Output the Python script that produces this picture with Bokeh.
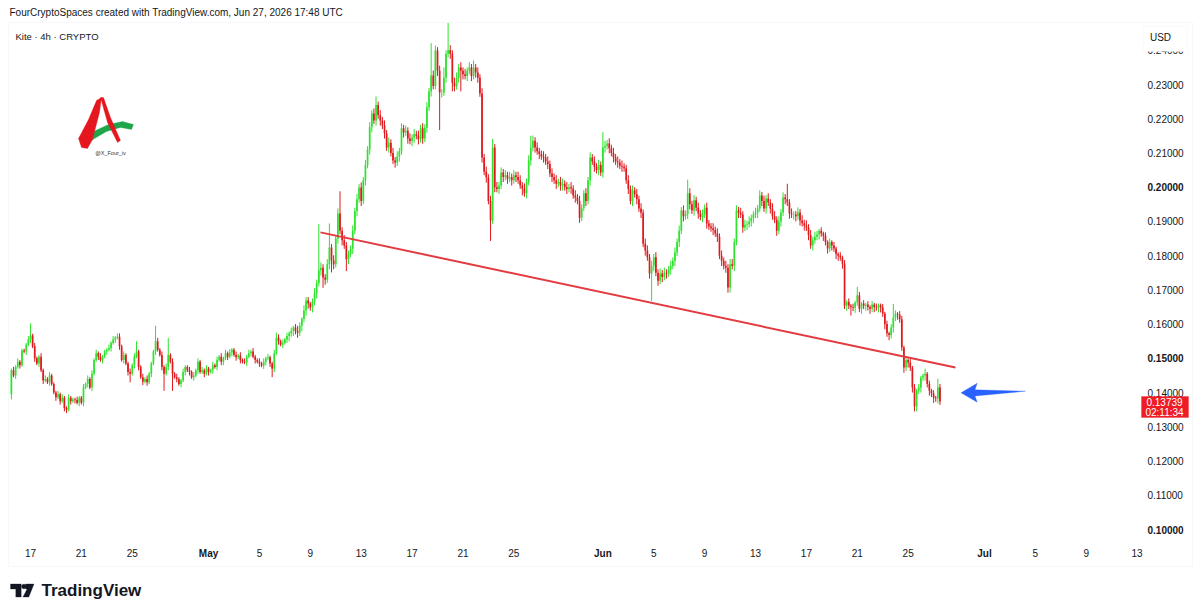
from datetime import datetime, timezone
import numpy as np
from bokeh.plotting import figure
from bokeh.models import (ColumnDataSource, FixedTicker, Label, PolyAnnotation,
                          Range1d, PrintfTickFormatter)
from bokeh.embed import file_html
from bokeh.resources import INLINE

# ---------------- data ----------------
START_UTC = "2026-04-15T12:00:00"      # first 4h candle
CANDLE_HOURS = 4
FIRST_OPEN = 0.1395
# closes in thousandths of USD, one per 4h candle
CLOSES_K = [
    146.5, 145.0, 147.5, 149.0, 148.0, 152.3, 152.0, 154.0, 155.5, 156.7,
    153.5, 150.0, 148.5, 150.5, 146.5, 143.5, 144.0, 143.0, 145.0, 142.5,
    140.0, 138.6, 139.5, 137.5, 138.5, 135.5, 135.0, 138.5, 137.5, 138.0,
    137.8, 137.0, 138.5, 137.0, 141.5, 142.5, 144.0, 141.5, 145.5, 149.5,
    151.5, 150.5, 149.5, 150.5, 152.0, 152.5, 153.0, 154.5, 155.5, 156.0,
    156.3, 153.5, 149.5, 151.0, 148.5, 146.0, 145.5, 148.0, 150.5, 152.0,
    147.5, 144.5, 143.2, 144.0, 143.0, 145.5, 148.5, 152.0, 155.0, 152.5,
    151.0, 147.5, 145.5, 147.5, 151.0, 149.0, 145.5, 144.5, 144.0, 142.5,
    143.5, 146.0, 147.5, 146.5, 146.0, 144.5, 145.0, 146.5, 149.0, 146.0,
    146.5, 145.5, 147.0, 146.0, 146.5, 148.0, 147.5, 149.5, 150.5, 149.0,
    150.0, 151.5, 150.5, 151.7, 152.5, 151.0, 150.3, 150.8, 149.5, 149.0,
    148.8, 150.5, 151.5, 152.0, 150.5, 149.5, 149.0, 148.5, 147.9, 149.0,
    150.0, 150.3, 148.5, 147.0, 151.5, 156.0, 155.0, 154.0, 154.5, 155.5,
    156.5, 157.3, 158.0, 159.0, 158.0, 157.5, 159.5, 161.5, 164.0, 166.9,
    166.0, 164.9, 166.5, 169.0, 172.0, 175.7, 176.5, 173.6, 173.0, 177.5,
    182.4, 178.6, 177.5, 185.0, 192.3, 187.3, 184.5, 183.0, 179.0, 180.5,
    182.0, 187.3, 193.0, 196.5, 199.9, 196.0, 202.0, 206.5, 211.0, 217.5,
    221.5, 219.5, 224.0, 221.0, 219.5, 218.0, 215.7, 211.6, 213.0, 210.0,
    207.8, 207.2, 209.0, 210.5, 217.2, 216.0, 216.5, 214.2, 213.5, 214.5,
    215.5, 215.0, 214.0, 217.2, 214.2, 217.4, 223.3, 228.0, 232.6, 229.6,
    239.9, 234.0, 227.7, 227.7, 232.0, 239.0, 240.0, 239.0, 230.5, 229.5,
    232.0, 235.0, 234.0, 233.0, 232.5, 234.0, 235.0, 232.5, 235.0, 233.5,
    232.0, 227.4, 208.7, 204.5, 202.8, 196.0, 190.3, 211.6, 200.0, 199.5,
    200.5, 204.3, 203.0, 203.5, 202.5, 203.0, 202.0, 203.5, 203.0, 202.0,
    200.5, 199.6, 198.2, 201.5, 207.8, 211.5, 213.6, 211.6, 210.5, 209.7,
    209.0, 208.7, 207.5, 206.8, 204.0, 203.0, 202.0, 201.0, 201.5, 200.5,
    201.0, 200.0, 199.5, 200.0, 199.6, 197.6, 197.0, 196.0, 191.1, 194.0,
    198.2, 196.0, 202.0, 208.7, 207.5, 206.0, 205.0, 206.5, 204.3, 211.6,
    212.0, 212.8, 211.4, 210.0, 208.7, 207.5, 207.2, 206.3, 206.0, 205.5,
    202.0, 199.5, 196.0, 199.0, 198.0, 196.5, 193.8, 192.5, 183.5, 181.5,
    179.5, 174.8, 177.0, 179.5, 175.0, 172.7, 174.8, 173.8, 175.0, 174.8,
    176.0, 177.0, 178.5, 180.9, 184.0, 187.3, 193.2, 191.5, 192.2, 198.2,
    195.0, 193.2, 196.2, 194.0, 192.3, 191.3, 192.0, 194.0, 189.4, 188.5,
    188.0, 187.5, 186.5, 185.5, 180.0, 178.5, 177.0, 176.5, 170.7, 177.5,
    177.0, 184.0, 193.2, 192.5, 192.0, 188.2, 189.0, 189.2, 190.0, 191.0,
    192.0, 192.5, 193.8, 197.6, 196.0, 193.8, 196.7, 195.5, 193.8, 191.5,
    190.5, 187.3, 190.0, 192.6, 197.0, 196.5, 195.5, 192.3, 192.0, 192.0,
    191.5, 192.6, 190.3, 189.5, 188.8, 188.2, 186.0, 183.0, 184.5, 185.5,
    186.2, 187.3, 186.5, 185.8, 184.0, 182.1, 184.0, 183.0, 182.1, 180.5,
    180.0, 179.5, 177.7, 165.4, 166.5, 165.4, 165.0, 164.8, 166.3, 168.4,
    164.5, 166.0, 165.4, 165.7, 165.0, 164.5, 165.7, 165.0, 164.9, 165.5,
    164.9, 163.1, 160.0, 157.3, 156.8, 159.0, 161.9, 163.0, 162.8, 161.4,
    153.2, 147.3, 149.5, 148.8, 147.3, 141.5, 136.0, 140.6, 141.5, 144.4,
    145.0, 145.5, 142.5, 140.6, 139.7, 138.5, 138.3, 141.5, 137.4,
]
# wick lengths beyond the body, base-36 digits in units of WICK_UNIT
WICK_UNIT = 0.0005
UPPER_WICK = (
    "1212111127 1211212121 1121211211 1211212121 2121112121 2212112126 "
    "1121211192 1212a12121 1211212121 2121121212 1212112121 2121211212 "
    "1211232121 2121232132 21232r3223 e2323d2322 2323232323 2352323232 "
    "3232323232 32323232j3 323262g323 3232323242 3232323523 2323232323 "
    "3232373232 2323232323 3232323232 2323232329 3232323232 2323232323 "
    "3232323232 2323232328 3232323232 2323232323 3232323232 2323232323 "
    "3232329232 2323232323 2121212121 1212121215 2121212121 1212128212 "
    "2121212121 131212152"
)
LOWER_WICK = (
    "3121211212 1212121121 1212122121 2121212121 1212121212 1212125121 "
    "2121212121 12a121a121 2121212121 1212121212 2121212121 1212121212 "
    "2125212121 2323232323 3232323632 3732323273 2323232323 3232323232 "
    "2323232323 3232323232 23m3232353 23c3232323 323232c232 3232323232 "
    "2423232323 2323232323 3232323232 2323232323 3232323232 2323232323 "
    "23g3232323 2323232323 3232323232 2323232333 2323232323 3232323232 "
    "2323232323 3232323232 2323232323 3232325232 2323232323 3232323232 "
    "2323233323 232323232"
)
LAST_PRICE_TEXT = "0.13739"
COUNTDOWN_TEXT = "02:11:34"

# trend line drawn on the chart (time, price)
TREND_T = ["2026-05-09T19:12:00", "2026-06-28T17:12:00"]
TREND_P = [0.1868, 0.1473]

Y_TICKS = [0.10, 0.11, 0.12, 0.13, 0.14, 0.15, 0.16, 0.17, 0.18, 0.19, 0.20,
           0.21, 0.22, 0.23, 0.24]
Y_BOLD = [0.10, 0.15, 0.20]
X_TICK_DATES = ["2026-04-17", "2026-04-21", "2026-04-25", "2026-05-01", "2026-05-05",
                "2026-05-09", "2026-05-13", "2026-05-17", "2026-05-21", "2026-05-25",
                "2026-06-01", "2026-06-05", "2026-06-09", "2026-06-13", "2026-06-17",
                "2026-06-21", "2026-06-25", "2026-07-01", "2026-07-05", "2026-07-09",
                "2026-07-13"]
X_TICK_LABELS = ["17", "21", "25", "May", "5", "9", "13", "17", "21", "25",
                 "Jun", "5", "9", "13", "17", "21", "25", "Jul", "5", "9", "13"]
MONTHS = {"May", "Jun", "Jul"}

HEADER = "FourCryptoSpaces created with TradingView.com, Jun 27, 2026 17:48 UTC"
LEGEND = "Kite \u00b7 4h \u00b7 CRYPTO"

# ---------------- helpers ----------------
def ms(s):
    return int(datetime.fromisoformat(s).replace(tzinfo=timezone.utc).timestamp() * 1000)

H4 = CANDLE_HOURS * 3600 * 1000
t0 = ms(START_UTC)
closes = np.array(CLOSES_K) / 1000.0
n = len(closes)
opens = np.concatenate([[FIRST_OPEN], closes[:-1]])
up = np.array([int(c, 36) for c in UPPER_WICK.replace(" ", "")]) * WICK_UNIT
dn = np.array([int(c, 36) for c in LOWER_WICK.replace(" ", "")]) * WICK_UNIT
assert len(up) == n and len(dn) == n, (n, len(up), len(dn))
tt = t0 + np.arange(n) * H4
top = np.maximum(opens, closes)
bot = np.minimum(opens, closes)
high = top + up
low = bot - dn
GREEN, RED = "#2ee22e", "#df1a1e"
colors = [GREEN if c >= o else RED for o, c in zip(opens, closes)]
src = ColumnDataSource(dict(t=tt, top=top, bot=bot, high=high, low=low, color=colors))

# ---------------- layout (frame = whole page) ----------------
W, H = 1200, 615
PANE_RIGHT, PANE_BOTTOM = 1140, 540     # page px where price / time scales sit
def sx(X): return X
def sy(Y): return H - Y

PX_PER_CANDLE = 2.12
X_OF_FIRST = 10.9
def t_at(X): return t0 + (X - X_OF_FIRST) / PX_PER_CANDLE * H4
PPU = 3423.0   # pixels per 1.0 USD
Y_OF_010 = 529.0
def price_at(Y): return 0.10 + (Y_OF_010 - Y) / PPU

p = figure(width=W, height=H, output_backend="svg", toolbar_location=None,
           x_range=Range1d(t_at(0), t_at(W)), y_range=Range1d(price_at(H), price_at(0)),
           y_axis_location="right", min_border=0, title=None)
p.background_fill_color = "white"
p.border_fill_color = "white"
p.outline_line_color = None
p.xgrid.visible = False
p.ygrid.visible = False

FONT = "Liberation Sans"
TXT = "#131722"

xa = p.xaxis[0]
xticks = [ms(d + "T00:00:00") for d in X_TICK_DATES]
xa.fixed_location = price_at(PANE_BOTTOM)
xa.ticker = FixedTicker(ticks=xticks)
xa.major_label_overrides = {t: ("" if l in MONTHS else l) for t, l in zip(xticks, X_TICK_LABELS)}
xa.major_tick_line_color = None
xa.minor_tick_line_color = None
xa.axis_line_color = None
xa.major_tick_out = 0
xa.major_tick_in = 0
xa.major_label_standoff = 8
xa.major_label_text_font = FONT
xa.major_label_text_font_size = "10px"
xa.major_label_text_color = TXT

ya = p.yaxis[0]
ya.fixed_location = t_at(PANE_RIGHT)
ya.ticker = FixedTicker(ticks=Y_TICKS)
ya.formatter = PrintfTickFormatter(format="%.5f")
ya.major_label_overrides = {v: "" for v in Y_BOLD}
ya.major_tick_line_color = None
ya.minor_tick_line_color = None
ya.axis_line_color = None
ya.major_tick_out = 0
ya.major_tick_in = 0
ya.major_label_standoff = 7
ya.major_label_text_font = FONT
ya.major_label_text_font_size = "10px"
ya.major_label_text_color = TXT

# candles
p.segment(x0="t", y0="low", x1="t", y1="high", line_color="color", line_width=1, source=src)
p.vbar(x="t", width=0.8 * H4, top="top", bottom="bot", fill_color="color",
       line_color=None, source=src)

# trend line
p.line([ms(t) for t in TREND_T], TREND_P, line_color="#e33b40", line_width=2)

# bold price labels and bold month labels
for v in Y_BOLD:
    p.add_layout(Label(x=sx(PANE_RIGHT + 7), x_units="screen", y=v, y_units="data",
                       text="%.5f" % v, text_font=FONT, text_font_size="10px",
                       text_font_style="bold", text_color=TXT, text_baseline="middle"))
for t, l in zip(xticks, X_TICK_LABELS):
    if l in MONTHS:
        p.add_layout(Label(x=t, x_units="data", y=sy(553), y_units="screen", text=l,
                           text_font=FONT, text_font_size="10px", text_font_style="bold",
                           text_color=TXT, text_align="center", text_baseline="middle"))

# outer pane box
p.add_layout(PolyAnnotation(xs=[sx(8), sx(1192), sx(1192), sx(8)],
                            ys=[sy(22), sy(22), sy(566), sy(566)],
                            xs_units="screen", ys_units="screen",
                            fill_color=None, fill_alpha=0, line_color="#e6e8ec", line_width=1))

# header & legend
p.add_layout(Label(x=sx(9), y=sy(12), x_units="screen", y_units="screen", text=HEADER,
                   text_font=FONT, text_font_size="10px", text_color=TXT,
                   text_baseline="middle"))
p.add_layout(Label(x=sx(15), y=sy(36), x_units="screen", y_units="screen", text=LEGEND,
                   text_font=FONT, text_font_size="9.5px", text_color=TXT,
                   text_baseline="middle"))

# USD box (partly hides the top price label, as in the original)
p.add_layout(PolyAnnotation(xs=[sx(1143), sx(1187), sx(1187), sx(1143)],
                            ys=[sy(26), sy(26), sy(51), sy(51)],
                            xs_units="screen", ys_units="screen",
                            fill_color="white", fill_alpha=1, line_color="#eceef2"))
p.add_layout(Label(x=sx(1160), y=sy(37), x_units="screen", y_units="screen", text="USD",
                   text_font=FONT, text_font_size="10px", text_color=TXT,
                   text_align="center", text_baseline="middle"))

# last price tag
p.add_layout(PolyAnnotation(xs=[sx(1141), sx(1188), sx(1188), sx(1141)],
                            ys=[sy(396), sy(396), sy(417), sy(417)],
                            xs_units="screen", ys_units="screen",
                            fill_color="#ee1c25", fill_alpha=1, line_color="#ee1c25"))
for txt, yy in [(LAST_PRICE_TEXT, 401.5), (COUNTDOWN_TEXT, 411.5)]:
    p.add_layout(Label(x=sx(1164), y=sy(yy), x_units="screen", y_units="screen", text=txt,
                       text_font=FONT, text_font_size="10px", text_color="white",
                       text_align="center", text_baseline="middle"))

# blue arrow
ARROW = [(960.5, 392.3), (976.7, 382.7), (974.5, 389.3), (1025, 390.7),
         (974.5, 395.5), (976.7, 401.7)]
p.add_layout(PolyAnnotation(xs=[sx(a) for a, b in ARROW], ys=[sy(b) for a, b in ARROW],
                            xs_units="screen", ys_units="screen",
                            fill_color="#2962ff", fill_alpha=1, line_color="#2962ff"))

# author logo (red A with green swoosh)
LOGO_GREEN = [(86, 137), (95, 130), (108, 124), (122, 121), (133, 124), (131, 129),
              (120, 127), (106, 131), (94, 138), (88, 142)]
LOGO_RED_L = [(78, 138), (81, 147), (87, 148), (92, 139), (99, 112), (101, 97),
              (96, 100), (88, 119)]
LOGO_RED_R = [(100, 97), (103, 97), (110, 117), (120, 140), (117, 142), (107, 122)]
for poly, col in [(LOGO_GREEN, "#1ea44a"), (LOGO_RED_L, "#e5161d"), (LOGO_RED_R, "#e5161d")]:
    p.add_layout(PolyAnnotation(xs=[sx(a) for a, b in poly], ys=[sy(b) for a, b in poly],
                                xs_units="screen", ys_units="screen",
                                fill_color=col, fill_alpha=1, line_color=col))
p.add_layout(Label(x=sx(110), y=sy(152), x_units="screen", y_units="screen",
                   text="@X_Four_iv", text_font=FONT, text_font_size="5.5px",
                   text_color="#333333", text_align="center", text_baseline="middle"))

# TradingView footer logo
TV1 = [(10, 583.5), (20.7, 583.5), (20.7, 596.5), (15.3, 596.5), (15.3, 588.5), (10, 588.5)]
TV7 = [(25, 583.5), (33.5, 583.5), (28.3, 596.5), (22.5, 596.5), (26.6, 588.5), (25, 588.5)]
for poly in (TV1, TV7):
    p.add_layout(PolyAnnotation(xs=[sx(a) for a, b in poly], ys=[sy(b) for a, b in poly],
                                xs_units="screen", ys_units="screen",
                                fill_color="#131722", fill_alpha=1, line_color="#131722"))
ang = np.linspace(0, 2 * np.pi, 14)
p.add_layout(PolyAnnotation(xs=list(sx(23.3 + 2.3 * np.cos(ang))),
                            ys=list(sy(586 + 2.3 * np.sin(ang))),
                            xs_units="screen", ys_units="screen",
                            fill_color="#131722", fill_alpha=1, line_color="#131722"))
p.add_layout(Label(x=sx(41), y=sy(590), x_units="screen", y_units="screen",
                   text="TradingView", text_font=FONT, text_font_size="17px",
                   text_font_style="bold", text_color="#131722", text_baseline="middle"))

open("out.html", "w").write(file_html(p, INLINE))
